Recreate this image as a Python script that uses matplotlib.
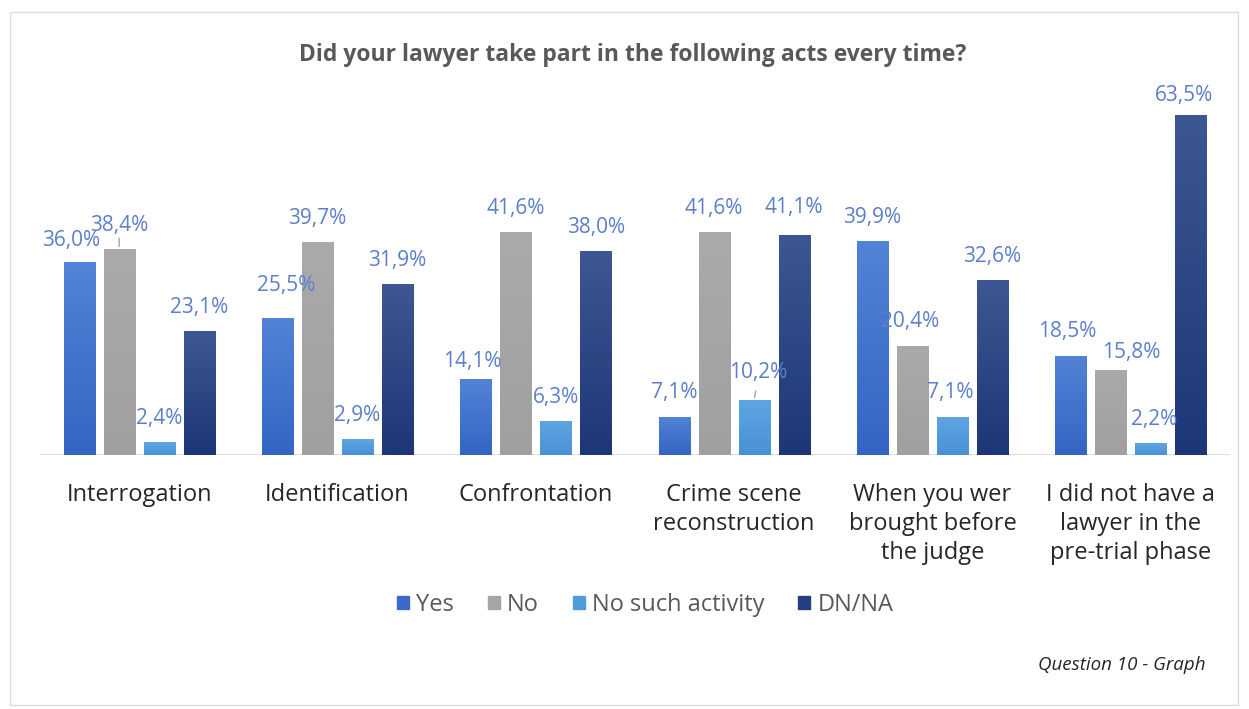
import matplotlib
matplotlib.use("Agg")
import matplotlib.pyplot as plt
import numpy as np
from matplotlib.patches import Rectangle
from matplotlib.colors import LinearSegmentedColormap

plt.rcParams['font.family'] = ['Open Sans', 'DejaVu Sans']

categories = ["Interrogation", "Identification", "Confrontation",
              "Crime scene\nreconstruction", "When you wer\nbrought before\nthe judge",
              "I did not have a\nlawyer in the\npre-trial phase"]
series_names = ["Yes", "No", "No such activity", "DN/NA"]
yes_vals = [36.0, 25.5, 14.1, 7.1, 39.9, 18.5]
no_vals = [38.4, 39.7, 41.6, 41.6, 20.4, 15.8]
nsa_vals = [2.4, 2.9, 6.3, 10.2, 7.1, 2.2]
dnna_vals = [23.1, 31.9, 38.0, 41.1, 32.6, 63.5]

series = [yes_vals, no_vals, nsa_vals, dnna_vals]
# (top colour, bottom colour) for the vertical bar gradient
grad = [("#5283d6", "#3465c4"), ("#aaaaaa", "#a0a0a0"),
        ("#5ea6e2", "#4a90d6"), ("#3d5793", "#1d3677")]
legend_cols = ["#3a6bc8", "#a5a5a5", "#4f9bdc", "#243f7f"]
label_col = "#5b7fcb"

W, H = 1249, 709
fig = plt.figure(figsize=(W / 100, H / 100), dpi=100)
fig.patch.set_facecolor("white")

# outer frame
fig.add_artist(Rectangle((10 / W, 1 - 705 / H), 1228 / W, 693 / H,
                         transform=fig.transFigure, fill=False,
                         edgecolor="#d9dde3", linewidth=1.0))

ax = fig.add_axes([40 / W, 1 - 455 / H, 1190 / W, 375 / H])
ax.set_xlim(0, 6)
ax.set_ylim(0, 70)
for s in ax.spines.values():
    s.set_visible(False)
ax.axhline(0, color="#d9d9d9", linewidth=1.2, zorder=1)
ax.set_yticks([])
ax.tick_params(axis="x", length=0, pad=20)
ax.set_xticks(np.arange(6) + 0.5)
ax.set_xticklabels(categories, fontsize=17, color="#262626", linespacing=1.29,
                   va="top")

bw = 31 / 198.3
step = 40 / 198.3
offs = (np.arange(4) - 1.5) * step
x = np.arange(6) + 0.5

# per-label nudges (dx, dy) in pixels, relative to the default spot above the bar
nudges = {(0, 0): (-8, -2), (1, 0): (9, 9), (2, 0): (-4, -6),
          (4, 1): (-2, 0), (4, 2): (-2, 0), (3, 2): (4, 4), (3, 3): (0, 3),
          (5, 0): (-4, 0), (5, 1): (20, -6), (5, 2): (3, 0), (5, 3): (-7, -5)}

for j, vals in enumerate(series):
    cmap = LinearSegmentedColormap.from_list("g%d" % j, [grad[j][1], grad[j][0]])
    bars = ax.bar(x + offs[j], vals, width=bw, color=legend_cols[j],
                  label=series_names[j], zorder=2)
    for i, (b, v) in enumerate(zip(bars, vals)):
        x0 = b.get_x()
        img = ax.imshow(np.linspace(0, 1, 64).reshape(-1, 1), cmap=cmap,
                        origin="lower", aspect="auto",
                        extent=(x0, x0 + bw, 0, v), zorder=2.5)
        img.set_clip_path(b)
        dx, dy = nudges.get((i, j), (0, 0))
        ax.annotate(f"{v:.1f}%".replace(".", ","), (x0 + bw / 2, v),
                    xytext=(dx, 24 + dy), textcoords="offset pixels",
                    ha="center", va="center", fontsize=15, color=label_col,
                    zorder=4)

ax.set_xlim(0, 6)
ax.set_ylim(0, 70)

# leader lines for labels lifted off their bars
ax.annotate("", (x[0] + offs[1], no_vals[0]), xytext=(0, 14),
            textcoords="offset pixels",
            arrowprops=dict(arrowstyle="-", color="#a6a6a6", lw=1))
ax.annotate("", (x[3] + offs[2], nsa_vals[3]), xytext=(2, 12),
            textcoords="offset pixels",
            arrowprops=dict(arrowstyle="-", color="#a6a6a6", lw=1))

fig.text(633 / W, 1 - 55 / H, "Did your lawyer take part in the following acts every time?",
         ha="center", va="center", fontsize=16.5, fontweight="bold", color="#595959")

handles = [Rectangle((0, 0), 1, 1, color=c) for c in legend_cols]
fig.legend(handles, series_names, loc="center", bbox_to_anchor=(645 / W, 1 - 605 / H),
           ncol=4, frameon=False, fontsize=17, handlelength=0.5, handleheight=0.5,
           handletextpad=0.3, columnspacing=1.45, labelcolor="#595959")

fig.text(1205 / W, 1 - 665 / H, "Question 10 - Graph", ha="right", va="center",
         fontsize=13.5, fontstyle="italic", color="#262626")

fig.savefig("out.png", dpi=100, facecolor="white")
